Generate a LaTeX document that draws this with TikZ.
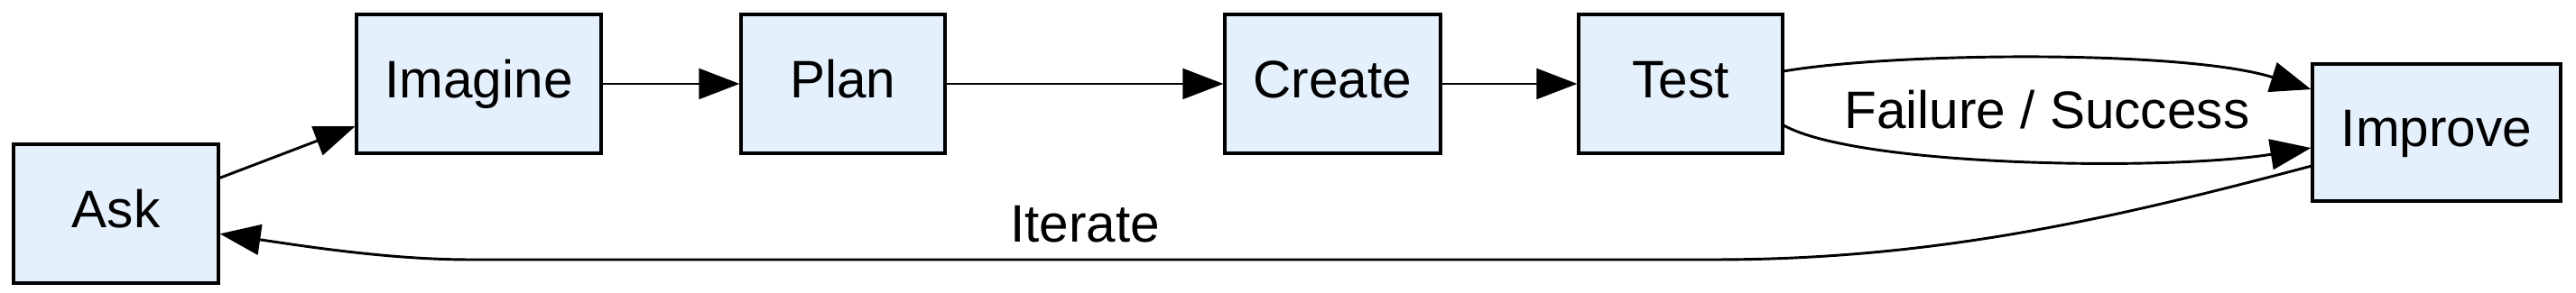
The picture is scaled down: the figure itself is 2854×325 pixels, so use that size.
\documentclass[tikz,border=0pt]{standalone}
\usepackage{fontspec}
\setmainfont{Liberation Sans}
\usetikzlibrary{arrows.meta}
\definecolor{stagefill}{RGB}{228,240,252}
\tikzset{
  stage/.style={draw=black, line width=0.7pt, fill=stagefill, inner sep=0pt,
    minimum height=154*0.2222pt, text height=10pt, text depth=3pt,
    font=\fontsize{13}{15}\selectfont},
  flow/.style={-{Triangle[length=10pt,width=7.5pt]}, line width=0.65pt},
  tag/.style={font=\fontsize{13}{15}\selectfont}
}

\begin{document}
\begin{tikzpicture}[x=0.2222pt, y=-0.2222pt]
    \useasboundingbox (0,0) rectangle (2854,325);
    \node[stage, minimum width=227*0.2222pt] (ask) at (128.5,237) {Ask};
    \node[stage, minimum width=271*0.2222pt] (imagine) at (530.5,93) {Imagine};
    \node[stage, minimum width=226*0.2222pt] (plan) at (934,93) {Plan};
    \node[stage, minimum width=239*0.2222pt] (create) at (1476.5,93) {Create};
    \node[stage, minimum width=226*0.2222pt] (test) at (1862,93) {Test};
    \node[stage, minimum width=275*0.2222pt, minimum height=152*0.2222pt] (improve) at (2699.5,147) {Improve};
    \draw[flow] (ask.19) -- (imagine.199);
    \draw[flow] (imagine) -- (plan);
    \draw[flow] (plan) -- (create);
    \draw[flow] (create) -- (test);
    \draw[flow] (test.7) .. controls (2100,58) and (2420,55) .. (improve.161);
    \draw[flow] (test.-22) .. controls (2060,185) and (2400,190) .. (improve.187);
    \node[tag] (result) at (2268,122) {Failure / Success};
    \draw[flow] (improve.195) .. controls (2350,240) and (2150,288) .. (1900,288)
        -- (520,288) .. controls (430,288) and (330,272) .. (ask.-11);
    \node[tag] (loop) at (1202,249) {Iterate};
\end{tikzpicture}
\end{document}
